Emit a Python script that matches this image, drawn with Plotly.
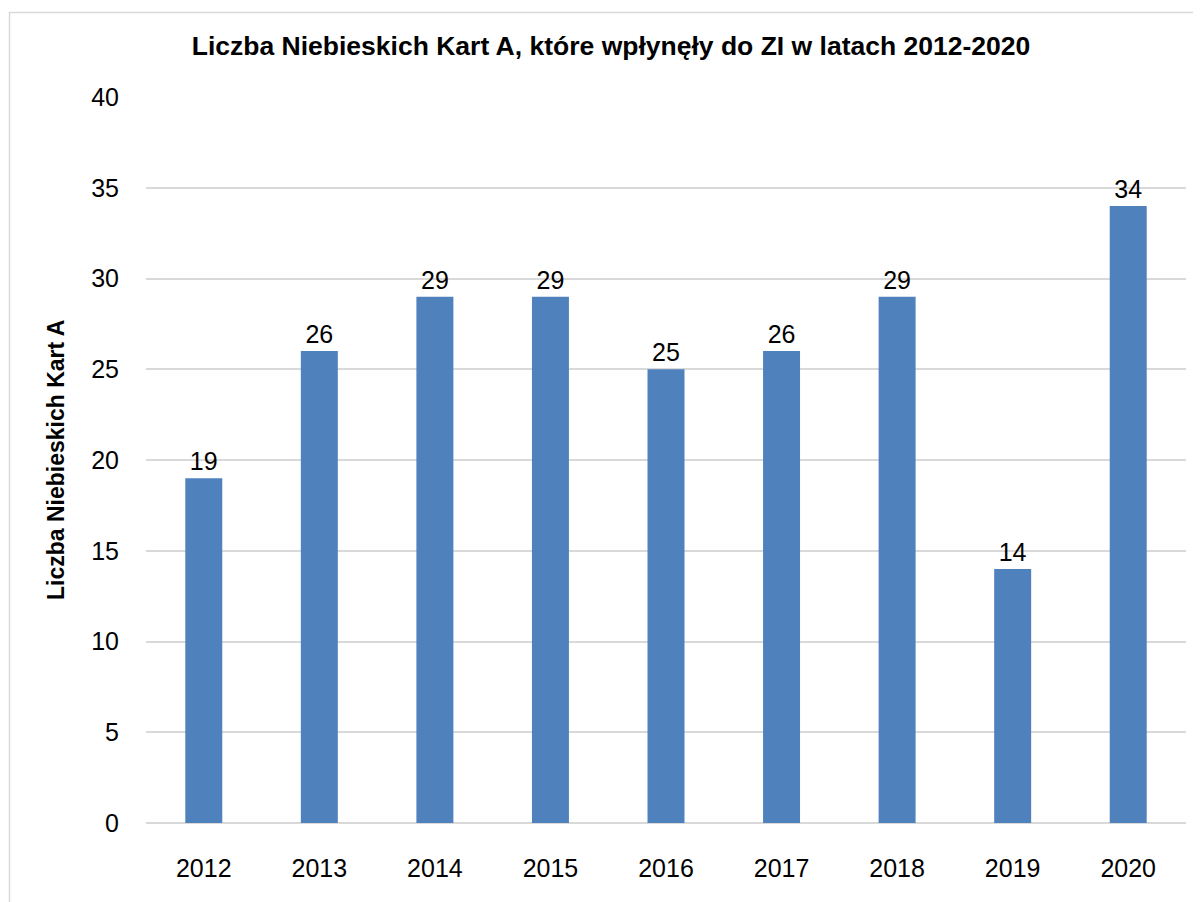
import plotly.graph_objects as go

years = ["2012", "2013", "2014", "2015", "2016", "2017", "2018", "2019", "2020"]
counts = [19, 26, 29, 29, 25, 26, 29, 14, 34]
y_ticks = [0, 5, 10, 15, 20, 25, 30, 35, 40]

title_text = "Liczba Niebieskich Kart A, które wpłynęły do ZI w latach 2012-2020"
y_title = "Liczba Niebieskich Kart A"

FONT = "Liberation Sans Narrow, Arial Narrow, Liberation Sans, Arial, sans-serif"
BAR = "#4f81bd"
GRID = "#d9d9d9"
TICK_SIZE = 25

fig = go.Figure(
    go.Bar(
        x=years,
        y=counts,
        marker=dict(color=BAR, line=dict(width=0)),
        text=[str(v) for v in counts],
        textposition="outside",
        textfont=dict(family=FONT, size=TICK_SIZE, color="#000000"),
        cliponaxis=False,
        width=0.32,
    )
)

# page has an ~8px body margin, so the figure is drawn 8px smaller
W, H = 1193, 894
L, R, T, B = 138, 15, 89, 79

def px_to_paper_x(px):
    return (px - L) / (W - L - R)

def px_to_paper_y(py):
    return (H - B - py) / (H - T - B)

fig.update_layout(
    width=W,
    height=H,
    margin=dict(l=L, r=R, t=T, b=B, autoexpand=False),
    paper_bgcolor="white",
    plot_bgcolor="white",
    showlegend=False,
    font=dict(family=FONT, size=TICK_SIZE, color="#000000"),
    title=dict(
        text="<b>" + title_text + "</b>",
        x=603 / W,
        xanchor="center",
        y=1 - 38 / H,
        yanchor="middle",
        xref="container",
        yref="container",
        font=dict(family=FONT, size=26.5, color="#000000"),
    ),
    xaxis=dict(
        showgrid=False,
        showline=False,
        zeroline=False,
        ticks="outside",
        ticklen=23,
        tickcolor="rgba(0,0,0,0)",
        tickfont=dict(family=FONT, size=TICK_SIZE, color="#000000"),
        automargin=False,
    ),
    yaxis=dict(
        range=[0, 40],
        tickvals=y_ticks,
        showgrid=True,
        gridcolor=GRID,
        gridwidth=2,
        zeroline=True,
        zerolinecolor=GRID,
        zerolinewidth=2,
        showline=False,
        ticks="outside",
        ticklen=21,
        tickcolor="rgba(0,0,0,0)",
        tickfont=dict(family=FONT, size=TICK_SIZE, color="#000000"),
        automargin=False,
    ),
    annotations=[
        dict(
            text="<b>" + y_title + "</b>",
            xref="paper",
            yref="paper",
            x=px_to_paper_x(48),
            y=0.5,
            xanchor="center",
            yanchor="middle",
            textangle=-90,
            showarrow=False,
            font=dict(family=FONT, size=23, color="#000000"),
        )
    ],
    shapes=[
        dict(
            type="rect",
            xref="paper",
            yref="paper",
            x0=px_to_paper_x(1.5),
            x1=px_to_paper_x(1210),
            y0=px_to_paper_y(910),
            y1=px_to_paper_y(4.5),
            line=dict(color="#d9d9d9", width=1.5),
            fillcolor="rgba(0,0,0,0)",
            layer="below",
        )
    ],
)

fig.write_html("out.html")
